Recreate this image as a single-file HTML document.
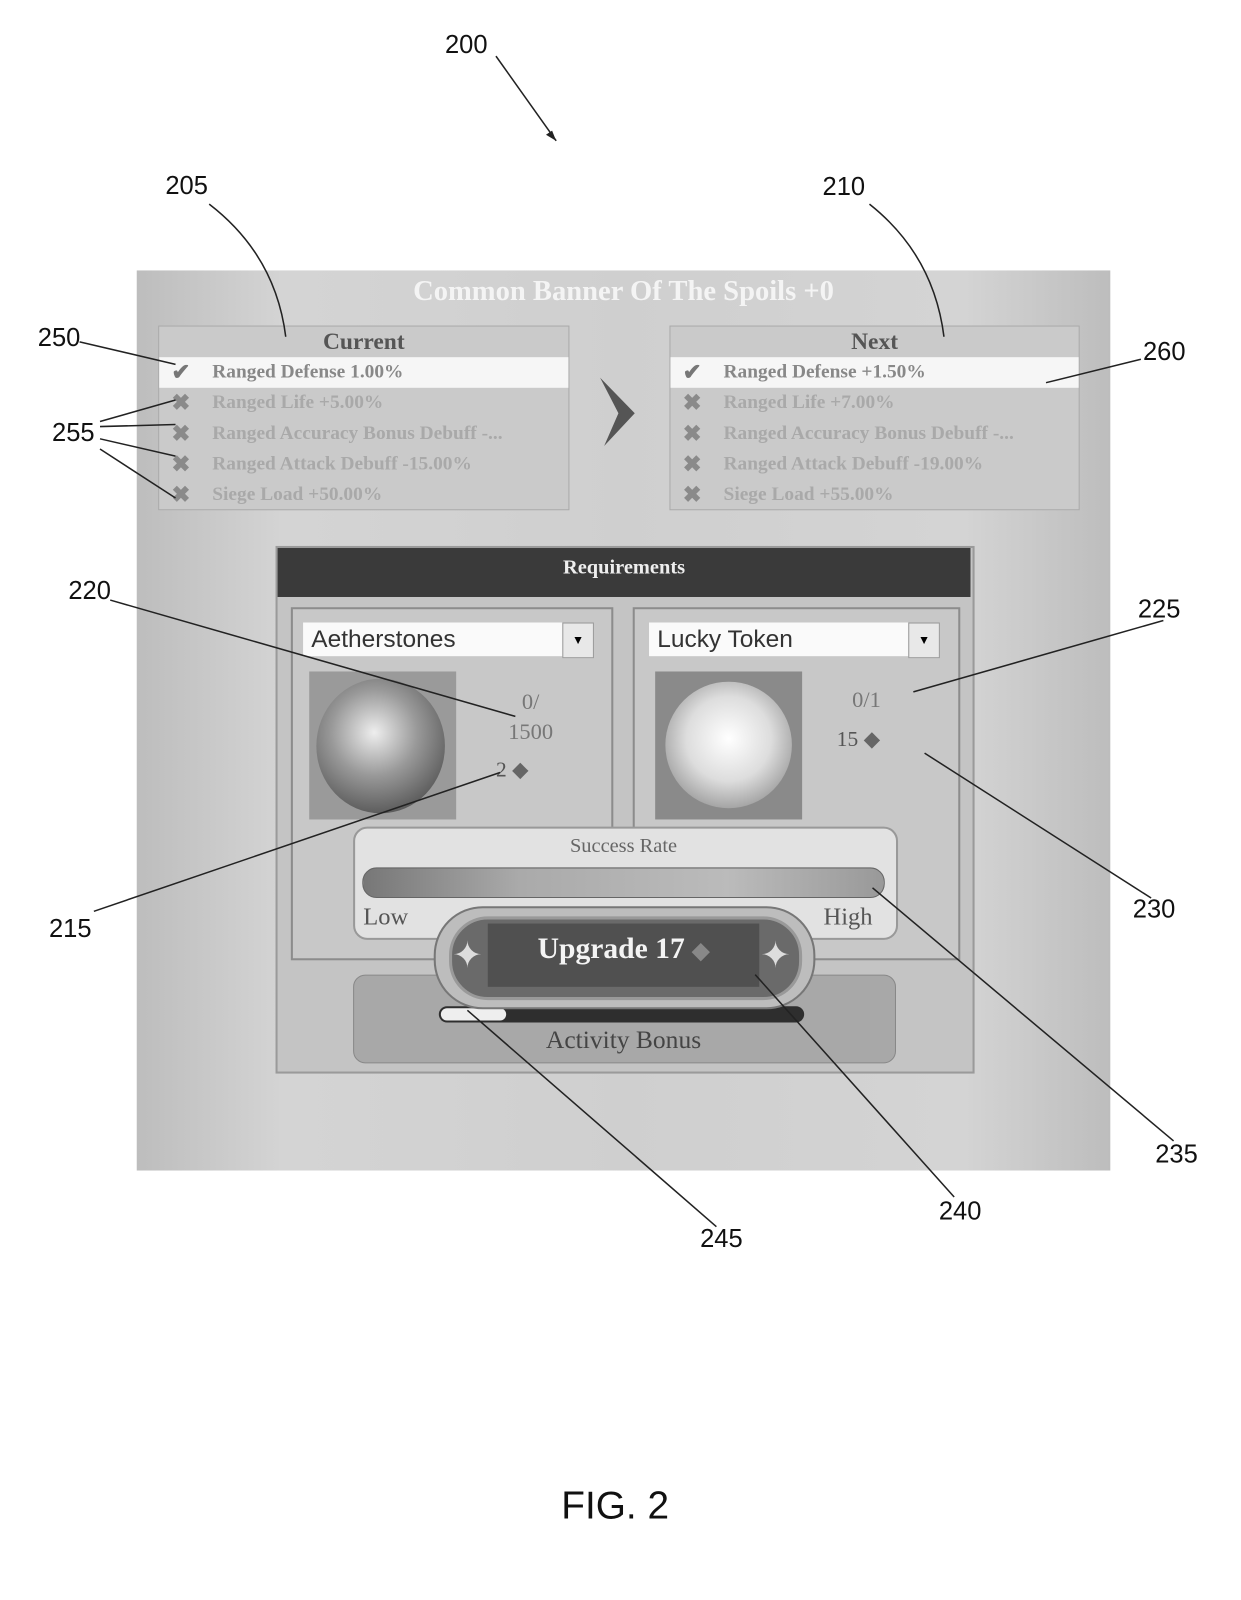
<!DOCTYPE html>
<html><head><meta charset="utf-8"><style>
body{margin:0;background:#fff;}
#o{position:relative;width:1241px;height:1600px;overflow:hidden;background:#fff;}
#c{position:absolute;left:0;top:0;width:1241px;height:1600px;transform:scale(1.0205);transform-origin:0 0;font-family:"Liberation Sans",sans-serif;}
.a{position:absolute;}
.lbl{position:absolute;font-size:25px;color:#111;}
.serif{font-family:"Liberation Serif",serif;}
.row{position:absolute;left:0;right:0;height:30px;font-family:"Liberation Serif",serif;font-size:19px;color:#a9a9a9;font-weight:bold;line-height:30px;padding-left:52px;white-space:nowrap;}
.ic{position:absolute;left:12px;font-size:22px;color:#8a8a8a;}
</style></head><body><div id="o"><div id="c">

<div class="a" style="left:134px;top:265px;width:954px;height:882px;background:linear-gradient(90deg,#bdbdbd 0%,#d4d4d4 15%,#cfcfcf 50%,#d4d4d4 85%,#bdbdbd 100%);"></div>
<div class="a serif" style="left:134px;top:270px;width:954px;text-align:center;font-size:28px;font-weight:bold;color:#f4f4f4;">Common Banner Of The Spoils +0</div>

<div class="a" style="left:155px;top:319px;width:401px;height:179px;background:#cacaca;border:1px solid #aaa;">
 <div class="serif" style="position:absolute;top:2px;width:100%;text-align:center;font-size:23px;font-weight:bold;color:#555;">Current</div>
 <div class="row" style="top:30px;background:#f6f6f6;color:#888;"><span class="ic" style="color:#777">✔</span>Ranged Defense 1.00%</div>
 <div class="row" style="top:60px;"><span class="ic">✖</span>Ranged Life +5.00%</div>
 <div class="row" style="top:90px;"><span class="ic">✖</span>Ranged Accuracy Bonus Debuff -...</div>
 <div class="row" style="top:120px;"><span class="ic">✖</span>Ranged Attack Debuff -15.00%</div>
 <div class="row" style="top:150px;"><span class="ic">✖</span>Siege Load +50.00%</div>
</div>
<div class="a" style="left:656px;top:319px;width:400px;height:179px;background:#cacaca;border:1px solid #aaa;">
 <div class="serif" style="position:absolute;top:2px;width:100%;text-align:center;font-size:23px;font-weight:bold;color:#555;">Next</div>
 <div class="row" style="top:30px;background:#f6f6f6;color:#888;"><span class="ic" style="color:#777">✔</span>Ranged Defense +1.50%</div>
 <div class="row" style="top:60px;"><span class="ic">✖</span>Ranged Life +7.00%</div>
 <div class="row" style="top:90px;"><span class="ic">✖</span>Ranged Accuracy Bonus Debuff -...</div>
 <div class="row" style="top:120px;"><span class="ic">✖</span>Ranged Attack Debuff -19.00%</div>
 <div class="row" style="top:150px;"><span class="ic">✖</span>Siege Load +55.00%</div>
</div>

<div class="a" style="left:270px;top:535px;width:681px;height:513px;background:#c4c4c4;border:2px solid #9a9a9a;"></div>
<div class="a serif" style="left:272px;top:537px;width:679px;height:48px;background:#3a3a3a;color:#eee;font-size:20px;font-weight:bold;text-align:center;line-height:38px;">Requirements</div>
<div class="a" style="left:285px;top:595px;width:312px;height:342px;border:2px solid #8c8c8c;background:#c8c8c8;"></div>
<div class="a" style="left:620px;top:595px;width:317px;height:342px;border:2px solid #8c8c8c;background:#c8c8c8;"></div>
<div class="a" style="left:297px;top:610px;width:252px;height:33px;background:#fafafa;font-size:24px;line-height:33px;padding-left:8px;color:#333;">Aetherstones</div>
<div class="a" style="left:551px;top:610px;width:29px;height:33px;background:#e8e8e8;border:1px solid #999;font-size:12px;text-align:center;line-height:33px;">▼</div>
<div class="a" style="left:636px;top:610px;width:252px;height:33px;background:#fafafa;font-size:24px;line-height:33px;padding-left:8px;color:#333;">Lucky Token</div>
<div class="a" style="left:890px;top:610px;width:29px;height:33px;background:#e8e8e8;border:1px solid #999;font-size:12px;text-align:center;line-height:33px;">▼</div>

<div class="a" style="left:303px;top:658px;width:144px;height:145px;background:#9a9a9a;"></div>
<div class="a" style="left:310px;top:665px;width:126px;height:132px;border-radius:50%;background:radial-gradient(circle at 45% 40%,#eee 0%,#999 40%,#555 80%,#777 100%);"></div>
<div class="a" style="left:642px;top:658px;width:144px;height:145px;background:#8a8a8a;"></div>
<div class="a" style="left:652px;top:668px;width:124px;height:124px;border-radius:50%;background:radial-gradient(circle at 50% 45%,#fff 0%,#ddd 45%,#999 80%,#777 100%);"></div>

<div class="a serif" style="left:480px;top:673px;width:80px;text-align:center;font-size:22px;color:#777;line-height:29px;">0/<br>1500</div>
<div class="a serif" style="left:486px;top:742px;font-size:21px;color:#555;">2 <span style="color:#666">◆</span></div>
<div class="a serif" style="left:835px;top:673px;font-size:22px;color:#777;">0/1</div>
<div class="a serif" style="left:820px;top:712px;font-size:21px;color:#555;">15 <span style="color:#666">◆</span></div>

<div class="a" style="left:346px;top:810px;width:530px;height:107px;border-radius:14px;background:#e2e2e2;border:2px solid #999;"></div>
<div class="a serif" style="left:346px;top:818px;width:530px;text-align:center;font-size:20px;color:#666;">Success Rate</div>
<div class="a" style="left:355px;top:850px;width:510px;height:28px;border-radius:14px;background:linear-gradient(90deg,#777,#aaa 30%,#bbb 70%,#999);border:1px solid #666;"></div>
<div class="a serif" style="left:356px;top:886px;font-size:24px;color:#555;">Low</div>
<div class="a serif" style="left:807px;top:886px;font-size:24px;color:#555;">High</div>

<div class="a" style="left:346px;top:955px;width:530px;height:85px;border-radius:12px;background:#a8a8a8;border:1px solid #888;"></div>
<div class="a" style="left:430px;top:986px;width:358px;height:16px;border-radius:8px;background:#2e2e2e;"></div>
<div class="a" style="left:432px;top:988px;width:64px;height:12px;border-radius:6px;background:#eee;"></div>
<div class="a serif" style="left:346px;top:1006px;width:530px;text-align:center;font-size:25px;color:#444;">Activity Bonus</div>

<div class="a" style="left:425px;top:888px;width:370px;height:97px;border-radius:48px;background:#bdbdbd;border:2px solid #777;"></div>
<div class="a" style="left:440px;top:898px;width:340px;height:76px;border-radius:38px;background:#6a6a6a;border:3px solid #999;"></div>
<div class="a" style="left:478px;top:905px;width:266px;height:62px;background:#505050;"></div>
<div class="a" style="left:443px;top:915px;font-size:36px;color:#ddd;">✦</div>
<div class="a" style="left:745px;top:915px;font-size:36px;color:#ddd;">✦</div>
<div class="a serif" style="left:478px;top:914px;width:266px;text-align:center;font-size:29px;font-weight:bold;color:#f4f4f4;">Upgrade 17 <span style="color:#888;font-size:22px">◆</span></div>

<svg class="a" style="left:0;top:0" width="1241" height="1600">
<path d="M588 370 L622 405 L592 437 L606 405 Z" fill="#555"/>
<g stroke="#222" stroke-width="1.5" fill="none">
<line x1="486" y1="55" x2="545" y2="138"/>
<path d="M205 200 Q270 250 280 330"/>
<path d="M852 200 Q915 250 925 330"/>
<line x1="78" y1="335" x2="172" y2="357"/>
<line x1="98" y1="413" x2="172" y2="392"/>
<line x1="98" y1="418" x2="172" y2="416"/>
<line x1="98" y1="430" x2="172" y2="447"/>
<line x1="98" y1="440" x2="172" y2="488"/>
<line x1="1118" y1="352" x2="1025" y2="375"/>
<line x1="108" y1="588" x2="505" y2="702"/>
<line x1="92" y1="893" x2="490" y2="757"/>
<line x1="1140" y1="608" x2="895" y2="678"/>
<line x1="1128" y1="880" x2="906" y2="738"/>
<line x1="1150" y1="1118" x2="855" y2="870"/>
<line x1="935" y1="1173" x2="740" y2="955"/>
<line x1="702" y1="1202" x2="458" y2="990"/>
</g>
<path d="M545 138 L535 132 L541 128 Z" fill="#222"/>
</svg>

<div class="lbl" style="left:436px;top:30px;">200</div>
<div class="lbl" style="left:162px;top:168px;">205</div>
<div class="lbl" style="left:806px;top:169px;">210</div>
<div class="lbl" style="left:37px;top:317px;">250</div>
<div class="lbl" style="left:51px;top:410px;">255</div>
<div class="lbl" style="left:1120px;top:331px;">260</div>
<div class="lbl" style="left:67px;top:565px;">220</div>
<div class="lbl" style="left:48px;top:896px;">215</div>
<div class="lbl" style="left:1115px;top:583px;">225</div>
<div class="lbl" style="left:1110px;top:877px;">230</div>
<div class="lbl" style="left:1132px;top:1117px;">235</div>
<div class="lbl" style="left:920px;top:1173px;">240</div>
<div class="lbl" style="left:686px;top:1200px;">245</div>
<div class="lbl" style="left:550px;top:1455px;font-size:38px;">FIG. 2</div>

</div></div></body></html>
